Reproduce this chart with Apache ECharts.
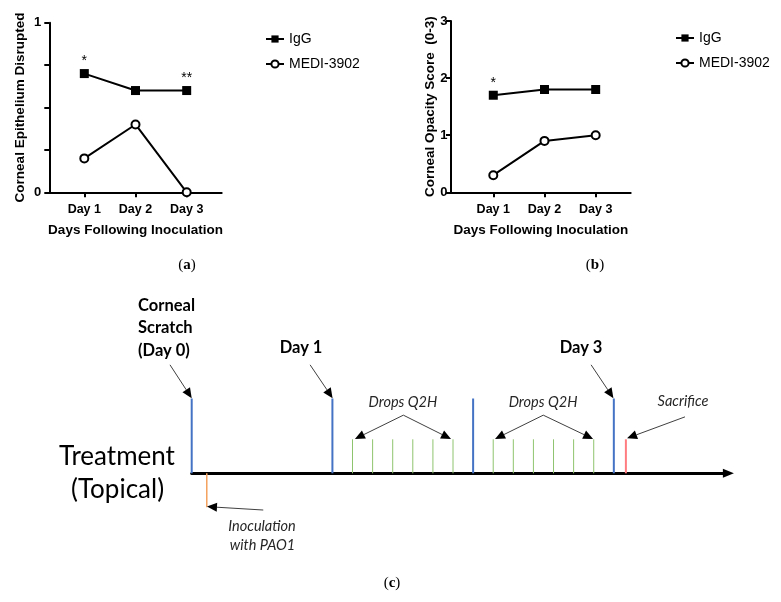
<!DOCTYPE html>
<html>
<head>
<meta charset="utf-8">
<script src="https://cdn.jsdelivr.net/npm/echarts@6/dist/echarts.min.js"></script>
<style>html,body{margin:0;padding:0;background:#fff}#c{width:781px;height:602px}</style>
</head>
<body>
<div id="c"></div>
<script>
// ---- Data: panels (a) and (b) ----
const categories = ['Day 1', 'Day 2', 'Day 3'];
const dayPos = [1, 2, 3];
const epiIgG = [0.7, 0.6, 0.6];
const epiMEDI = [0.2, 0.4, 0.0];
const epiSig = ['*', '', '**'];
const opaIgG = [1.7, 1.8, 1.8];
const opaMEDI = [0.3, 0.9, 1.0];
const opaSig = ['*', '', ''];
const epiTickLabels = [0, 1];
const seriesNames = ['IgG', 'MEDI-3902'];

// ---- Data: panel (c) timeline (schematic time units, Day = 7 units) ----
const dayMarks = [0, 7, 14, 21];          // blue: scratch, Day 1, Day 2, Day 3
const dayMarkHeight = [2.2, 2.2, 2.2, 2.2];
const dropsA = [8, 9, 10, 11, 12, 13];     // Q2H drops after Day 1
const dropsB = [15, 16, 17, 18, 19, 20];   // Q2H drops after Day 2
const dropHeight = 1;
const inoculationAt = [0.75];
const inoculationHeight = -1;
const sacrificeAt = [21.6];
const sacrificeHeight = 1;

// annotation arrows [fromX, fromY, toX, toY] in timeline units
const arrows = [
  [-1.08, 3.19, 0, 2.21],
  [5.89, 3.19, 7.01, 2.21],
  [19.87, 3.19, 20.98, 2.21],
  [10.53, 1.71, 8.12, 1.01],
  [10.53, 1.71, 12.9, 1.01],
  [17.49, 1.71, 15.09, 1.01],
  [17.49, 1.71, 19.97, 1.01],
  [24.54, 1.66, 21.66, 1.03],
  [3.56, -1.08, 0.76, -0.98]
];
// annotation texts
const notes = [
  {t: 'Corneal\nScratch\n(Day 0)', x: -2.67, y: 4.27, k: 'bold', a: 'left'},
  {t: 'Day 1', x: 5.44, y: 3.70, k: 'bold', a: 'center'},
  {t: 'Day 3', x: 19.37, y: 3.70, k: 'bold', a: 'center'},
  {t: 'Drops Q2H', x: 10.51, y: 2.08, k: 'ital', a: 'center'},
  {t: 'Drops Q2H', x: 17.48, y: 2.08, k: 'ital', a: 'center'},
  {t: 'Sacrifice', x: 24.44, y: 2.13, k: 'ital', a: 'center'},
  {t: 'Treatment', x: -3.72, y: 0.49, k: 'big', a: 'center'},
  {t: '(Topical)', x: -3.69, y: -0.49, k: 'big', a: 'center'},
  {t: 'Inoculation', x: 3.5, y: -1.55, k: 'ital', a: 'center'},
  {t: 'with PAO1', x: 3.52, y: -2.11, k: 'ital', a: 'center'}
];

const SANS = '"Liberation Sans", Arial, sans-serif';
const CAL = 'Lato, "Open Sans", sans-serif';

function pairs(xs, ys) { return xs.map((x, i) => [x, ys[i]]); }

function valueX(gi, min, max) {
  return {
    type: 'value', gridIndex: gi, min: min, max: max,
    axisLine: {lineStyle: {color: '#000', width: 2}},
    axisTick: {show: true, customValues: dayPos, length: 5, lineStyle: {color: '#000', width: 2}},
    axisLabel: {customValues: dayPos, formatter: v => categories[Math.round(v) - 1] || '',
      color: '#000', fontFamily: SANS, fontWeight: 'bold', fontSize: 12.5, margin: 11},
    splitLine: {show: false},
    name: 'Days Following Inoculation', nameLocation: 'middle', nameGap: 31, nameMoveOverlap: false,
    nameTextStyle: {color: '#000', fontFamily: SANS, fontWeight: 'bold', fontSize: 13.5}
  };
}
function valueY(gi, max, interval, name, gap, margin, fmt) {
  return {
    type: 'value', gridIndex: gi, min: 0, max: max, interval: interval,
    axisLine: {show: true, lineStyle: {color: '#000', width: 2}},
    axisTick: {show: true, length: 5, lineStyle: {color: '#000', width: 2}},
    axisLabel: {color: '#000', fontFamily: SANS, fontWeight: 'bold', fontSize: 13, margin: margin, formatter: fmt},
    splitLine: {show: false},
    name: name, nameLocation: 'middle', nameGap: gap, nameMoveOverlap: false,
    nameTextStyle: {color: '#000', fontFamily: SANS, fontWeight: 'bold', fontSize: 13.5}
  };
}
function igg(gi, vals, sig) {
  return {
    name: seriesNames[0], type: 'line', xAxisIndex: gi, yAxisIndex: gi,
    data: pairs(dayPos, vals), symbol: 'rect', symbolSize: 9,
    itemStyle: {color: '#000'}, lineStyle: {color: '#000', width: 2},
    label: {show: true, position: 'top', distance: 1, formatter: p => sig[p.dataIndex],
      color: '#000', fontFamily: SANS, fontSize: 14}
  };
}
function medi(gi, vals) {
  return {
    name: seriesNames[1], type: 'line', xAxisIndex: gi, yAxisIndex: gi,
    data: pairs(dayPos, vals), symbol: 'circle', symbolSize: 8,
    itemStyle: {color: '#fff', borderColor: '#000', borderWidth: 2},
    lineStyle: {color: '#000', width: 2}
  };
}
function legend(left, top) {
  return {
    data: seriesNames, orient: 'vertical', left: left, top: top, itemWidth: 18, itemHeight: 9,
    itemGap: 9, selectedMode: false,
    textStyle: {color: '#000', fontFamily: SANS, fontSize: 14, lineHeight: 16}
  };
}
function eventSeries(xs, h, color, width) {
  return {
    type: 'custom', xAxisIndex: 2, yAxisIndex: 2, z: 3,
    data: xs.map((x, i) => [x, Array.isArray(h) ? h[i] : h]),
    renderItem: function (params, api) {
      const p0 = api.coord([api.value(0), 0]);
      const p1 = api.coord([api.value(0), api.value(1)]);
      return {type: 'line', shape: {x1: p0[0], y1: p0[1], x2: p1[0], y2: p1[1]},
        style: {stroke: color, lineWidth: width}};
    }
  };
}
function caption(letter, x, y) {
  return {type: 'text', x: x, y: y, style: {text: '{p|(}{b|' + letter + '}{p|)}', align: 'center', verticalAlign: 'middle',
    rich: {p: {fontFamily: '"Liberation Serif", serif', fontSize: 15, fill: '#000'},
           b: {fontFamily: '"Liberation Serif", serif', fontSize: 15, fontWeight: 'bold', fill: '#000'}}}};
}

const option = {
  animation: false,
  backgroundColor: '#fff',
  grid: [
    {left: 49.3, top: 22.7, width: 172.4, height: 169.6},
    {left: 451, top: 21, width: 179.7, height: 171.3},
    {left: 191.7, top: 286.3, width: 536.7, height: 289}
  ],
  legend: [legend(260, 26), legend(670, 25)],
  xAxis: [
    valueX(0, 0.316, 3.684),
    valueX(1, 0.174, 3.684),
    {type: 'value', gridIndex: 2, min: 0, max: 26.7,
      axisLine: {show: true, onZero: true, symbol: ['none', 'triangle'], symbolSize: [9, 11],
        lineStyle: {color: '#000', width: 3}},
      axisTick: {show: false}, axisLabel: {show: false}, splitLine: {show: false}}
  ],
  yAxis: [
    valueY(0, 1, 0.25, 'Corneal Epithelium Disrupted', 22, 8, v => epiTickLabels.indexOf(v) >= 0 ? String(v) : ''),
    valueY(1, 3, 1, 'Corneal Opacity Score  (0-3)', 14, 3.5, v => String(v)),
    {type: 'value', gridIndex: 2, min: -3, max: 5.5, show: false, splitLine: {show: false}}
  ],
  graphic: [caption('a', 187, 265), caption('b', 595, 265), caption('c', 392, 583)],
  series: [
    igg(0, epiIgG, epiSig), medi(0, epiMEDI),
    igg(1, opaIgG, opaSig), medi(1, opaMEDI),
    eventSeries(dropsA, dropHeight, '#8fc46e', 1),
    eventSeries(dropsB, dropHeight, '#8fc46e', 1),
    eventSeries(dayMarks, dayMarkHeight, '#4472c4', 2),
    eventSeries(sacrificeAt, sacrificeHeight, '#ff7c80', 2),
    eventSeries(inoculationAt, inoculationHeight, '#f4a15d', 1.5),
    {
      type: 'custom', xAxisIndex: 2, yAxisIndex: 2, z: 4,
      data: arrows,
      renderItem: function (params, api) {
        const a = api.coord([api.value(0), api.value(1)]);
        const b = api.coord([api.value(2), api.value(3)]);
        const dx = b[0] - a[0], dy = b[1] - a[1];
        const len = Math.sqrt(dx * dx + dy * dy);
        const ux = dx / len, uy = dy / len, L = 10, W = 4.5;
        const bx = b[0] - ux * L, by = b[1] - uy * L;
        return {type: 'group', children: [
          {type: 'line', shape: {x1: a[0], y1: a[1], x2: bx, y2: by}, style: {stroke: '#404040', lineWidth: 1}},
          {type: 'polygon', shape: {points: [[b[0], b[1]], [bx - uy * W, by + ux * W], [bx + uy * W, by - ux * W]]},
            style: {fill: '#000'}}
        ]};
      }
    },
    {
      type: 'custom', xAxisIndex: 2, yAxisIndex: 2, z: 5,
      data: notes.map(n => [n.x, n.y]),
      renderItem: function (params, api) {
        const n = notes[params.dataIndex];
        const p = api.coord([api.value(0), api.value(1)]);
        const st = {text: n.t, align: n.a, verticalAlign: 'middle', fontFamily: CAL};
        if (n.k === 'bold') { st.fontSize = 16.5; st.fontWeight = 'bold'; st.fill = '#000'; st.lineHeight = 22.5; }
        else if (n.k === 'ital') { st.fontSize = 14.5; st.fontStyle = 'italic'; st.fill = '#262626'; }
        else { st.fontSize = 26; st.fill = '#000'; }
        return {type: 'text', x: p[0], y: p[1], style: st};
      }
    }
  ]
};
const chart = echarts.init(document.getElementById('c'), null, {renderer: 'canvas'});
chart.setOption(option);
</script>
</body>
</html>
